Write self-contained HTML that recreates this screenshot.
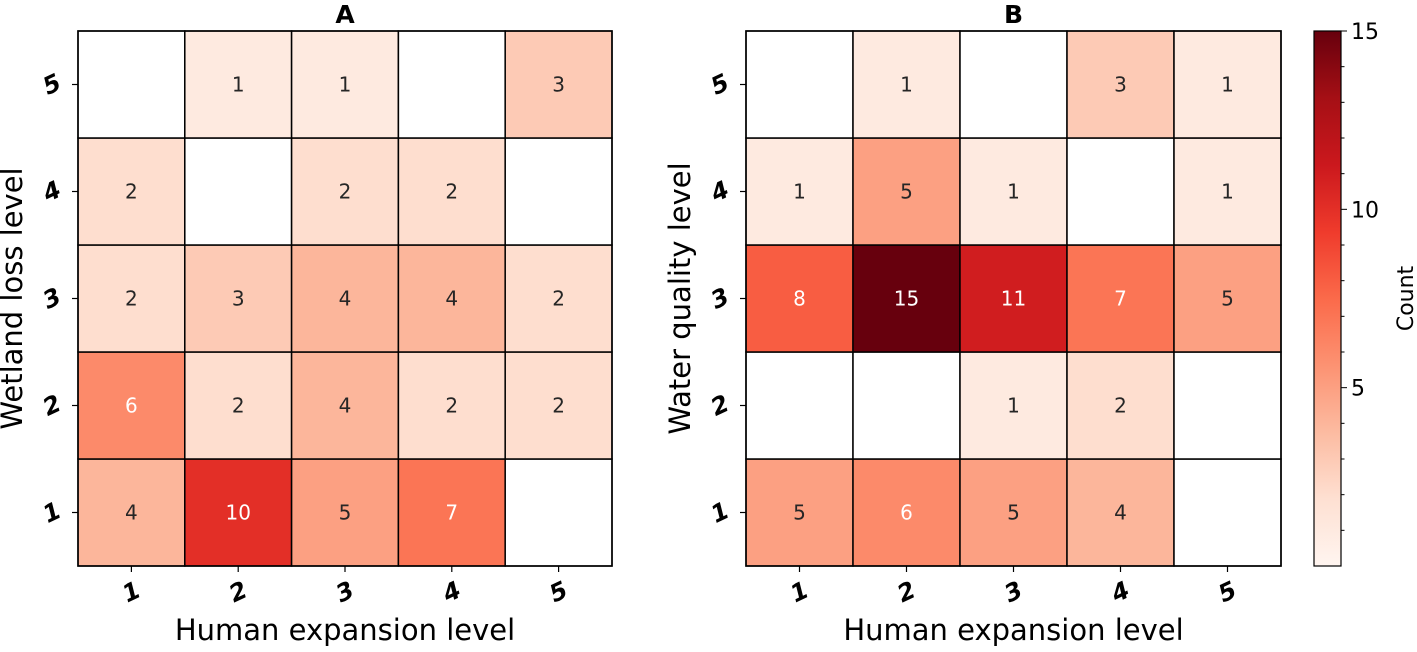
<!DOCTYPE html>
<html><head><meta charset="utf-8"><style>
body{margin:0;background:#fff;}
text{font-family:"DejaVu Sans","Liberation Sans",sans-serif;}
</style></head><body>
<svg id="chart" width="1417" height="647" xmlns="http://www.w3.org/2000/svg"></svg>
<script>
const levels=[1,2,3,4,5];
const countsA=[[4,10,5,7,null],[6,2,4,2,2],[2,3,4,4,2],[2,null,2,2,null],[null,1,1,null,3]]; // row index = level-1
const countsB=[[5,6,5,4,null],[null,null,1,2,null],[8,15,11,7,5],[1,5,1,null,1],[null,1,null,3,1]];
const cbTicks=[5,10,15];
const vmin=0,vmax=15;
const stops=["#fff5f0","#fee0d2","#fcbba1","#fc9272","#fb6a4a","#ef3b2c","#cb181d","#a50f15","#67000d"];
function hex(c){return [1,3,5].map(i=>parseInt(c.substr(i,2),16));}
function color(v){let t=Math.max(0,Math.min(1,(v-vmin)/(vmax-vmin)))*(stops.length-1);let i=Math.min(Math.floor(t),stops.length-2),f=t-i;
 const a=hex(stops[i]),b=hex(stops[i+1]);return "rgb("+a.map((x,k)=>Math.round(x+(b[k]-x)*f)).join(",")+")";}
const svg=document.getElementById('chart');const NS="http://www.w3.org/2000/svg";
function el(tag,attrs,parent){const e=document.createElementNS(NS,tag);for(const k in attrs)e.setAttribute(k,attrs[k]);(parent||svg).appendChild(e);return e;}
const axTop=31,axBottom=566;
function panel(x0,x1,data,title,ylabel,id){
 const g=el('g',{});
 
 
 const cw=(x1-x0)/levels.length,ch=(axBottom-axTop)/levels.length;
 const xs=i=>x0+i*cw, ys=l=>axBottom-l*ch;
 data.forEach((row,r)=>row.forEach((v,c)=>{
  const x=xs(c),y=ys(r+1);
  const rc=el('rect',{x:x,y:y,width:cw,height:ch,fill:v==null?'#fff':color(v),stroke:'#000','stroke-width':1.5},g);
  
  
  if(v!=null){const t=el('text',{x:x+cw/2,y:y+ch/2+7,'text-anchor':'middle','font-size':20,fill:v>=6?'#fff':'#262626'},g);t.textContent=v;
   
   }
 }));
 el('rect',{x:x0,y:axTop,width:x1-x0,height:axBottom-axTop,fill:'none',stroke:'#000','stroke-width':1.5},g);
 levels.forEach((l,i)=>{
  const cx=xs(i)+cw/2;el('line',{x1:cx,x2:cx,y1:axBottom,y2:axBottom+6,stroke:'#000','stroke-width':1.2},g);
  const t=el('text',{x:cx,y:axBottom+34,'text-anchor':'middle','font-size':24,'font-weight':'bold','font-style':'italic',transform:`rotate(-25 ${cx} ${axBottom+26})`},g);t.textContent=l;
  
  
  const cyy=ys(l)+ch/2;el('line',{x1:x0-6,x2:x0,y1:cyy,y2:cyy,stroke:'#000','stroke-width':1.2},g);
  const ty=el('text',{x:x0-26,y:cyy+8,'text-anchor':'middle','font-size':24,'font-weight':'bold','font-style':'italic',transform:`rotate(-25 ${x0-26} ${cyy})`},g);ty.textContent=l;
  
  
 });
 const tt=el('text',{x:(x0+x1)/2,y:23,'text-anchor':'middle','font-size':25,'font-weight':'bold'},g);tt.textContent=title;
 
 
 const xl=el('text',{x:(x0+x1)/2,y:640,'text-anchor':'middle','font-size':29},g);xl.textContent='Human expansion level';
 
 
 const yx=x0-56,yc=(axTop+axBottom)/2;
 const yl=el('text',{x:yx,y:yc,'text-anchor':'middle','font-size':29,transform:`rotate(-90 ${yx} ${yc})`},g);yl.textContent=ylabel;
 
 
}
panel(78,612,countsA,'A','Wetland loss level','a');
panel(746,1281,countsB,'B','Water quality level','b');
const cb=el('g',{});


const cbx=1314,cbw=27;
const cbY=v=>axBottom-(v-vmin)/(vmax-vmin)*(axBottom-axTop);
const defs=el('defs',{},cb);const lg=el('linearGradient',{id:'grad',x1:0,y1:1,x2:0,y2:0},defs);
stops.forEach((s,i)=>el('stop',{offset:i/(stops.length-1),'stop-color':s},lg));
el('rect',{x:cbx,y:axTop,width:cbw,height:axBottom-axTop,fill:'url(#grad)',stroke:'#000','stroke-width':1.2},cb);
for(let v=1;v<=vmax;v++){el('line',{x1:cbx+cbw,x2:cbx+cbw+(cbTicks.includes(v)?6:3.5),y1:cbY(v),y2:cbY(v),stroke:'#000','stroke-width':1},cb);}
cbTicks.forEach(v=>{const t=el('text',{x:cbx+cbw+10,y:cbY(v)+8,'font-size':22},cb);t.textContent=v;
 
 });
const cl=el('text',{x:1413,y:(axTop+axBottom)/2,'text-anchor':'middle','font-size':22,transform:`rotate(-90 1413 ${(axTop+axBottom)/2})`},cb);
cl.textContent='Count';


</script>
</body></html>
